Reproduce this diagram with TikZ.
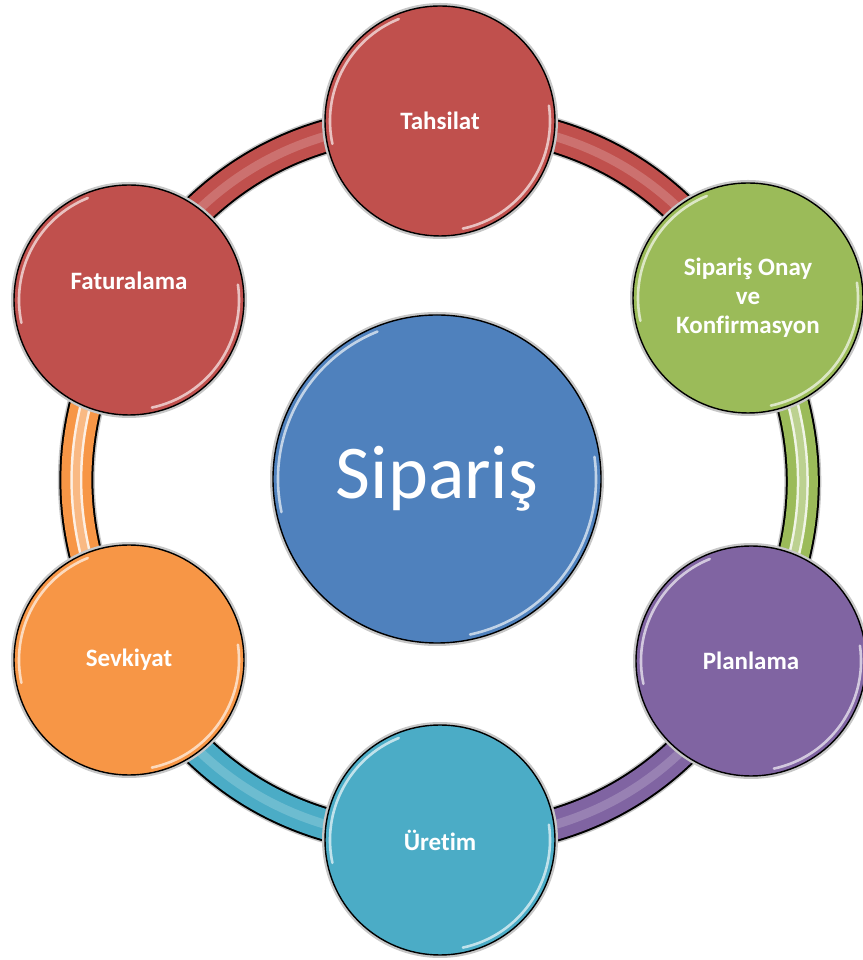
\documentclass[tikz,border=0pt]{standalone}
\usepackage{fontspec}
\setmainfont{Carlito}[Ligatures={NoCommon}]
\usetikzlibrary{backgrounds}
\definecolor{cRed}{HTML}{C0504D}
\definecolor{cGreen}{HTML}{9BBB59}
\definecolor{cPurple}{HTML}{8064A2}
\definecolor{cTeal}{HTML}{4BACC6}
\definecolor{cOrange}{HTML}{F79646}
\definecolor{cBlue}{HTML}{4F81BD}
\begin{document}
\begin{tikzpicture}[x=1pt,y=1pt,
  disc/.style={circle, inner sep=0pt, draw=black, line width=1.4pt,
     preaction={draw=black!22, line width=6pt}, text=white},
  sat/.style={disc, minimum size=230pt, font=\bfseries\fontsize{25}{29}\selectfont, align=center},
  hub/.style={disc, minimum size=328pt, font=\fontsize{76}{80}\selectfont},
  bandout/.style={line width=37pt, draw=black!22},
  bandblk/.style={line width=34pt, draw=black},
  bandcol/.style={line width=30pt},
  gloss/.style={draw=white, line width=2.6pt, opacity=0.65, line cap=round},
  stripeSoft/.style={line width=9pt, opacity=0.35},
  stripeWhite/.style={line width=2.5pt, double distance=7pt, opacity=0.85},
]
\useasboundingbox (0,0) rectangle (862,960);

\node[sat, fill=cRed] (tah) at (440,839) {Tahsilat};
\node[sat, fill=cGreen] (ony) at (748,662) {Sipariş Onay\\ve\\Konfirmasyon};
\node[sat, fill=cPurple] (pln) at (751,299) {Planlama};
\node[sat, fill=cTeal] (ure) at (440,120) {Üretim};
\node[sat, fill=cOrange] (sev) at (129,300) {Sevkiyat};
\node[sat, fill=cRed, label={[text=white, font=\bfseries\fontsize{25}{29}\selectfont, yshift=19pt]center:Faturalama}] (fat) at (129,660) {};
\node[hub, fill=cBlue] (hub) at (437,481) {Sipariş};

% glossy rim highlights
\foreach \n/\r in {tah/115, ony/115, pln/115, ure/115, sev/115, fat/115, hub/164} {
  \draw[gloss] (\n.center) ++(112:\r-5) arc (112:192:\r-5);
  \draw[gloss] (\n.center) ++(-78:\r-5) arc (-78:8:\r-5);
}

% ring segments
\begin{scope}[on background layer]
  \foreach \a/\b/\c in {tah/ony/cRed, ony/pln/cGreen, pln/ure/cPurple, ure/sev/cTeal, sev/fat/cOrange, fat/tah/cRed} {
    \draw[bandout] (\a.center) to[bend left=30] (\b.center);
    \draw[bandblk] (\a.center) to[bend left=30] (\b.center);
    \draw[bandcol, draw=\c] (\a.center) to[bend left=30] (\b.center);
  }
  \foreach \a/\b/\c in {tah/ony/cRed, pln/ure/cPurple, ure/sev/cTeal, fat/tah/cRed} {
    \draw[stripeSoft, draw=\c!45!white] (\a.center) to[bend left=30] (\b.center);
  }
  \foreach \a/\b/\c in {ony/pln/cGreen, sev/fat/cOrange} {
    \draw[stripeWhite, draw=white, double=\c!75!white] (\a.center) to[bend left=30] (\b.center);
  }
\end{scope}
\end{tikzpicture}
\end{document}
